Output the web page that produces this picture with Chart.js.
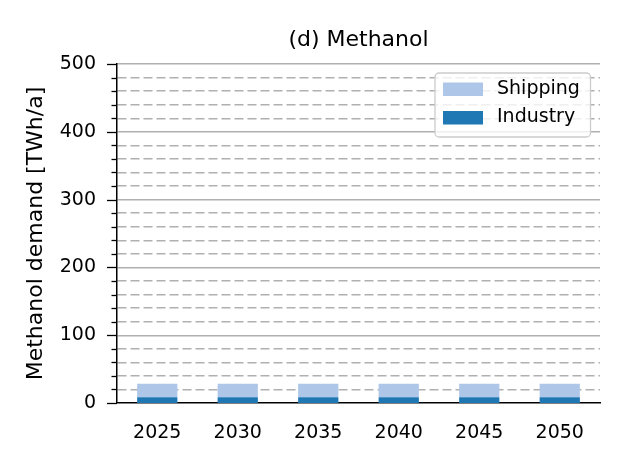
<!DOCTYPE html>
<html>
<head>
<meta charset="utf-8">
<script src="https://cdn.jsdelivr.net/npm/chart.js@4"></script>
<style>
  html, body { margin: 0; padding: 0; background: #fff; }
  #wrap { width: 630px; height: 473px; }
</style>
</head>
<body>
<div id="wrap"><canvas id="chart" width="630" height="473"></canvas></div>
<script>
// data
const years = ['2025', '2030', '2035', '2040', '2045', '2050'];
const industry = [8.5, 8.5, 8.5, 8.5, 8.5, 8.5];
const shipping = [20, 20, 20, 20, 20, 20];
const chartTitle = '(d) Methanol';
const yLabel = 'Methanol demand [TWh/a]';
const yMax = 500;
const yMajor = 100;
const yMinor = 20;

const FONT = 'DejaVu Sans';

function isMajor(v) {
  return Math.abs(v % yMajor) < 1e-6;
}

// ticks, title and legend box drawn on top of the chart
const extras = {
  id: 'extras',
  afterDraw(chart) {
    const ctx = chart.ctx;
    const area = chart.chartArea;
    const y = chart.scales.y;

    // y tick marks, long for major, short for minor
    ctx.save();
    ctx.strokeStyle = '#000';
    ctx.lineWidth = 1.3;
    y.ticks.forEach(t => {
      const py = Math.round(y.getPixelForValue(t.value)) + 0.5;
      const len = isMajor(t.value) ? 10 : 5.5;
      ctx.beginPath();
      ctx.moveTo(area.left - len, py);
      ctx.lineTo(area.left, py);
      ctx.stroke();
    });
    ctx.restore();

    // title centred on plot area
    ctx.save();
    ctx.fillStyle = '#000';
    ctx.font = '22px "' + FONT + '"';
    ctx.textAlign = 'center';
    ctx.textBaseline = 'middle';
    ctx.fillText(chartTitle, (area.left + area.right) / 2, 40);
    ctx.restore();

    // legend (reversed order like the stack)
    const items = chart.data.datasets.slice().reverse();
    const bx = area.right - 165, by = area.top + 9, bw = 155.5, bh = 64;
    ctx.save();
    ctx.beginPath();
    ctx.roundRect(bx, by, bw, bh, 4);
    ctx.fillStyle = 'rgba(255,255,255,0.8)';
    ctx.fill();
    ctx.strokeStyle = '#cccccc';
    ctx.lineWidth = 1.3;
    ctx.stroke();
    ctx.font = '19px "' + FONT + '"';
    ctx.textBaseline = 'middle';
    ctx.textAlign = 'left';
    items.forEach((ds, i) => {
      const cy = by + 16 + i * 28.5;
      ctx.fillStyle = ds.backgroundColor;
      ctx.fillRect(bx + 8, cy - 6.5, 40, 13.5);
      ctx.fillStyle = '#000';
      ctx.fillText(ds.label, bx + 62, cy);
    });
    ctx.restore();
  }
};

new Chart(document.getElementById('chart'), {
  type: 'bar',
  data: {
    labels: years,
    datasets: [
      { label: 'Industry', data: industry, backgroundColor: '#1f77b4', barPercentage: 0.5, categoryPercentage: 1 },
      { label: 'Shipping', data: shipping, backgroundColor: '#aec7e8', barPercentage: 0.5, categoryPercentage: 1 }
    ]
  },
  options: {
    responsive: false,
    animation: false,
    layout: { padding: { top: 64, right: 30, left: 0, bottom: 0 } },
    plugins: {
      legend: { display: false },
      title: { display: false },
      tooltip: { enabled: false }
    },
    scales: {
      x: {
        stacked: true,
        offset: true,
        grid: { display: false, drawTicks: false },
        border: { display: true, color: '#000', width: 1.5 },
        ticks: { color: '#000', font: { family: FONT, size: 19 }, padding: 19 },
        afterFit: s => { s.height = 70; }
      },
      y: {
        stacked: true,
        min: 0,
        max: yMax,
        grid: {
          drawTicks: false,
          color: '#b0b0b0',
          lineWidth: c => (c.tick && c.tick.value === 0) ? 0 : 1.4
        },
        border: {
          display: true,
          color: '#000',
          width: 1.5,
          dash: c => (c.tick && !isMajor(c.tick.value)) ? [9, 4] : []
        },
        ticks: {
          stepSize: yMinor,
          autoSkip: false,
          color: '#000',
          padding: 21,
          font: { family: FONT, size: 19 },
          callback: v => isMajor(v) ? String(v) : ''
        },
        title: {
          display: true,
          text: yLabel,
          color: '#000',
          font: { family: FONT, size: 22 },
          padding: { top: 23, bottom: 0 }
        },
        afterFit: s => { s.width = 117; }
      }
    }
  },
  plugins: [extras]
});
</script>
</body>
</html>
